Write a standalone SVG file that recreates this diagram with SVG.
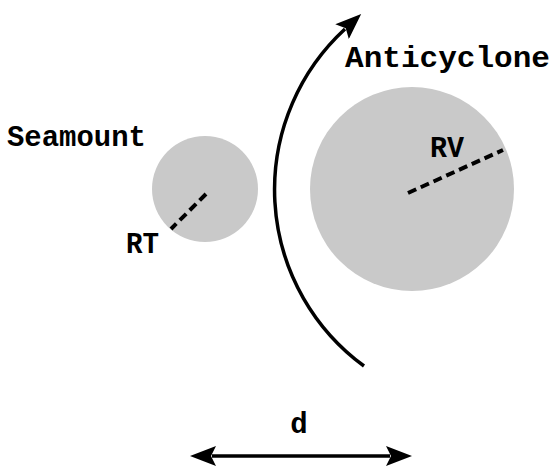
<svg xmlns="http://www.w3.org/2000/svg" width="553" height="466" viewBox="0 0 553 466">
<style>
.lbl{font-family:"Liberation Mono","Courier New",monospace;font-weight:bold;font-size:29px;fill:#000}
.blob{fill:#c9c9c9}
.rad{stroke:#000;stroke-width:4;stroke-dasharray:9,5;fill:none}
.conn{stroke:#000;stroke-width:3.5;fill:none}
</style>
<defs>
<marker id="ah" viewBox="0 0 26 20" refX="4" refY="10" markerWidth="26" markerHeight="20" markerUnits="userSpaceOnUse" orient="auto-start-reverse">
<path d="M0,0 L26,10 L0,20 L5,10 Z" fill="#000"/>
</marker>
</defs>
<rect width="553" height="466" fill="#fff"/>
<g id="seamount">
<circle class="blob" cx="205" cy="189" r="53"/>
<line class="rad" x1="206" y1="194" x2="171" y2="229"/>
<text class="lbl" x="7" y="146" textLength="139" lengthAdjust="spacingAndGlyphs">Seamount</text>
<text class="lbl" x="126" y="253" textLength="33" lengthAdjust="spacingAndGlyphs">RT</text>
</g>
<g id="anticyclone">
<circle class="blob" cx="412" cy="189" r="102"/>
<line class="rad" x1="408" y1="193" x2="503" y2="150"/>
<text class="lbl" x="345" y="67" textLength="205" lengthAdjust="spacingAndGlyphs">Anticyclone</text>
<text class="lbl" x="430" y="157" textLength="34" lengthAdjust="spacingAndGlyphs">RV</text>
</g>
<g id="connectors">
<path class="conn" d="M364,366 A218.5,218.5 0 0,1 345,29" marker-end="url(#ah)"/>
<line class="conn" x1="212" y1="456" x2="390" y2="456" marker-start="url(#ah)" marker-end="url(#ah)"/>
<text class="lbl" x="299" y="433" text-anchor="middle">d</text>
</g>
</svg>
